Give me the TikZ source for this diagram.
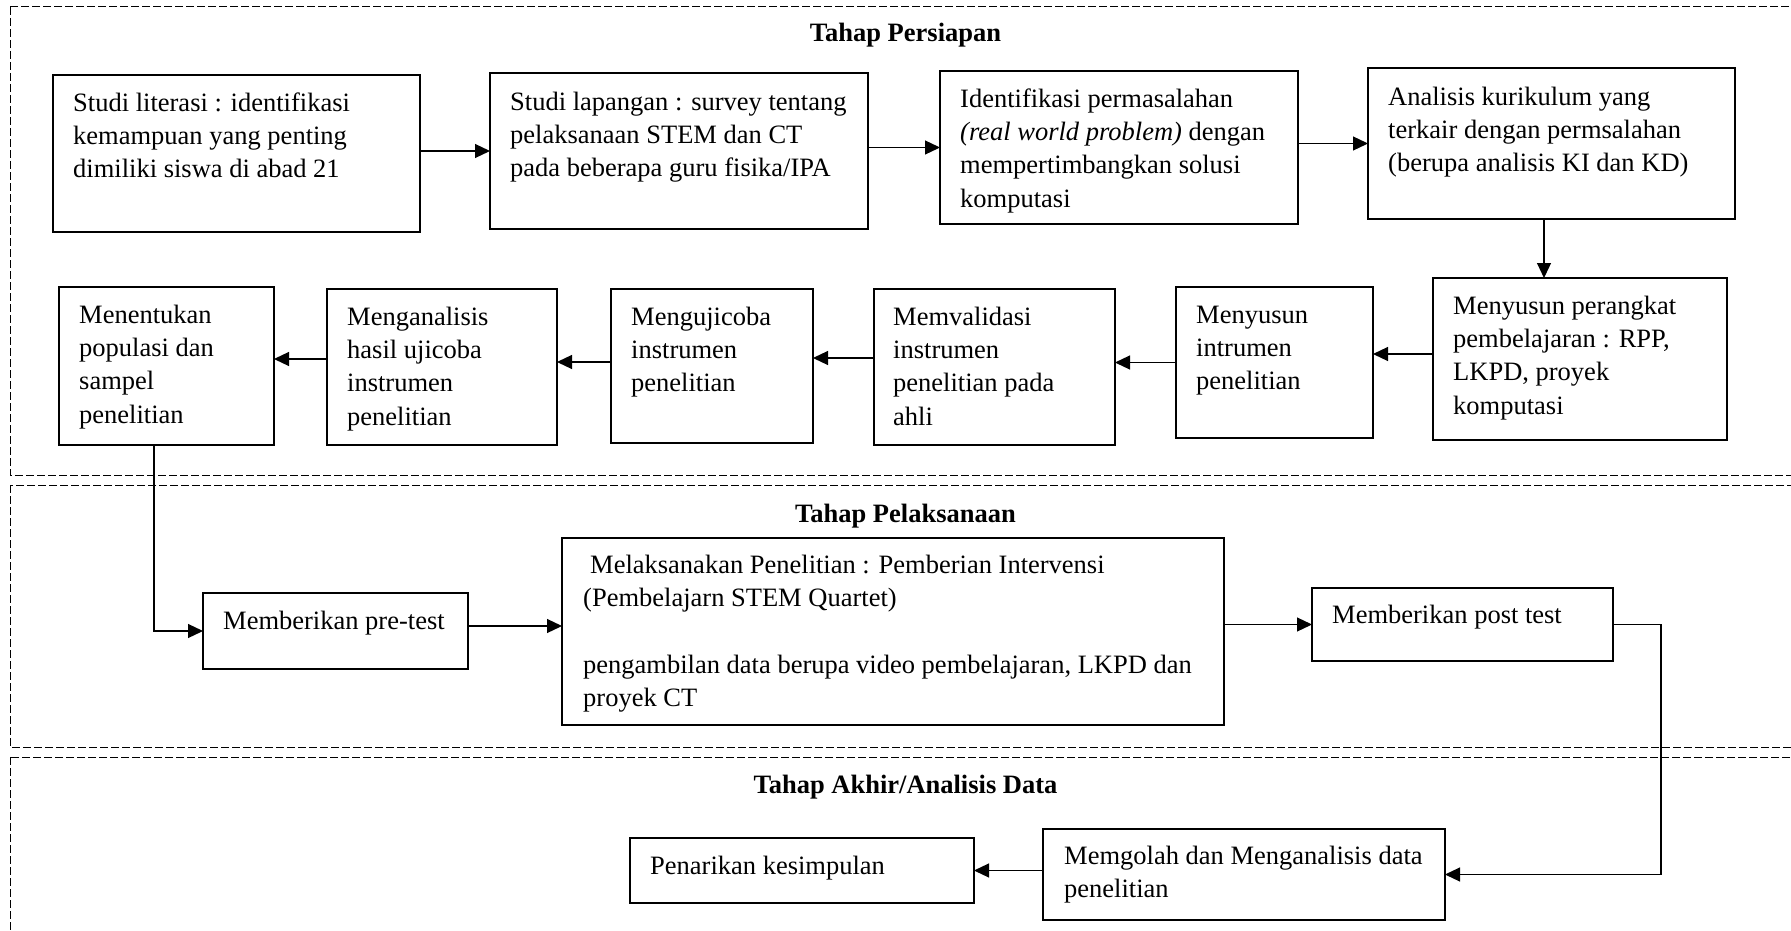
\documentclass[tikz,border=0pt]{standalone}
\usepackage{fontspec}
\setmainfont{Liberation Serif}
\usetikzlibrary{arrows.meta,calc}
\newcommand\mytx[4]{\node[txt] (#1) at (#2,{#3-23.31}) {\strut #4};}
\newcommand\mybx[5]{\node[boxst,minimum width={#4-#2},minimum height={#5-#3}] (#1) at (#2,#3) {};}
\begin{document}
\begin{tikzpicture}[x=1pt,y=-1pt,
  boxst/.style={draw,line width=1.4pt,anchor=north west,inner sep=0pt,outer sep=0pt},
  txt/.style={anchor=north west,inner sep=0pt,align=left,font=\fontsize{26.5}{33.3}\selectfont},
  ttl/.style={anchor=base,inner sep=0pt,font=\fontsize{26.5}{33.3}\selectfont\bfseries},
  frame/.style={dash pattern=on 8pt off 3pt,line width=1pt},
  arr/.style={line width=1.2pt,-{Triangle[length=15pt,width=14pt]}},
  ln/.style={line width=1.2pt}]
\useasboundingbox (0,0) rectangle (1791,931);
\fill[white] (0,0) rectangle (1791,931);
% frames
\draw[frame] (10,7) rectangle (1801,475);
\draw[frame] (10,485) rectangle (1801,747);
\draw[frame] (10,757) rectangle (1801,945);
% titles
\node[ttl] (t1) at (905.5,42) {Tahap Persiapan};
\node[ttl] (t2) at (905.5,522) {Tahap Pelaksanaan};
\node[ttl] (t3) at (905.5,793) {Tahap Akhir/Analisis Data};
% boxes
\mybx{b1}{53}{75}{420}{232}
\mybx{b2}{490}{73}{868}{229}
\mybx{b3}{940}{71}{1298}{224}
\mybx{b4}{1368}{68}{1735}{219}
\mybx{b5}{1433}{278}{1727}{440}
\mybx{b6}{1176}{287}{1373}{438}
\mybx{b7}{874}{289}{1115}{445}
\mybx{b8}{611}{289}{813}{443}
\mybx{b9}{327}{289}{557}{445}
\mybx{b10}{59}{287}{274}{445}
\mybx{b11}{203}{593}{468}{669}
\mybx{b12}{562}{538}{1224}{725}
\mybx{b13}{1312}{588}{1613}{661}
\mybx{b14}{630}{838}{974}{903}
\mybx{b15}{1043}{829}{1445}{920}
% texts
\mytx{b1t}{73}{111}{Studi literasi : identifikasi\\kemampuan yang penting\\dimiliki siswa di abad 21}
\mytx{b2t}{510}{110}{Studi lapangan : survey tentang\\pelaksanaan STEM dan CT\\pada beberapa guru fisika/IPA}
\mytx{b3t}{960}{107}{Identifikasi permasalahan\\\textit{(real world problem)} dengan\\mempertimbangkan solusi\\komputasi}
\mytx{b4t}{1388}{105}{Analisis kurikulum yang\\terkair dengan permsalahan\\(berupa analisis KI dan KD)}
\mytx{b5t}{1453}{314}{Menyusun perangkat\\pembelajaran : RPP,\\LKPD, proyek\\komputasi}
\mytx{b6t}{1196}{323}{Menyusun\\intrumen\\penelitian}
\mytx{b7t}{893}{325}{Memvalidasi\\instrumen\\penelitian pada\\ahli}
\mytx{b8t}{631}{325}{Mengujicoba\\instrumen\\penelitian}
\mytx{b9t}{347}{325}{Menganalisis\\hasil ujicoba\\instrumen\\penelitian}
\mytx{b10t}{79}{323}{Menentukan\\populasi dan\\sampel\\penelitian}
\mytx{b11t}{223}{629}{Memberikan pre-test}
\mytx{b12t}{583}{573}{\hspace*{7pt}Melaksanakan Penelitian : Pemberian Intervensi\\(Pembelajarn STEM Quartet)\\\strut\\pengambilan data berupa video pembelajaran, LKPD dan\\proyek CT}
\mytx{b13t}{1332}{623}{Memberikan post test}
\mytx{b14t}{650}{874}{Penarikan kesimpulan}
\mytx{b15t}{1064}{864}{Memgolah dan Menganalisis data\\penelitian}
% connectors
\draw[arr] (b1.east |- b2.west) -- (b2.west);
\draw[arr] (b2.east |- b3.west) -- (b3.west);
\draw[arr] (b3.east |- b4.west) -- (b4.west);
\draw[arr] ([xshift=-7.5pt]b4.south) -- ([xshift=-7.5pt]b4.south |- b5.north);
\draw[arr] ([yshift=5pt]b5.west) -- ([yshift=5pt]b5.west -| b6.east);
\draw[arr] (b6.west) -- (b6.west -| b7.east);
\draw[arr] ([yshift=9pt]b7.west) -- ([yshift=9pt]b7.west -| b8.east);
\draw[arr] ([yshift=4pt]b8.west) -- ([yshift=4pt]b8.west -| b9.east);
\draw[arr] ([yshift=8pt]b9.west) -- ([yshift=8pt]b9.west -| b10.east);
\draw[arr] ([xshift=-12.5pt]b10.south) |- (b11.west);
\draw[arr] ([yshift=5pt]b11.east) -- ([yshift=5pt]b11.east -| b12.west);
\draw[arr] (b12.east |- b13.west) -- (b13.west);
\draw[arr] (b13.east) -- ++(48,0) |- (b15.east);
\draw[arr] (b15.west |- b14.east) -- (b14.east);
\end{tikzpicture}
\end{document}
